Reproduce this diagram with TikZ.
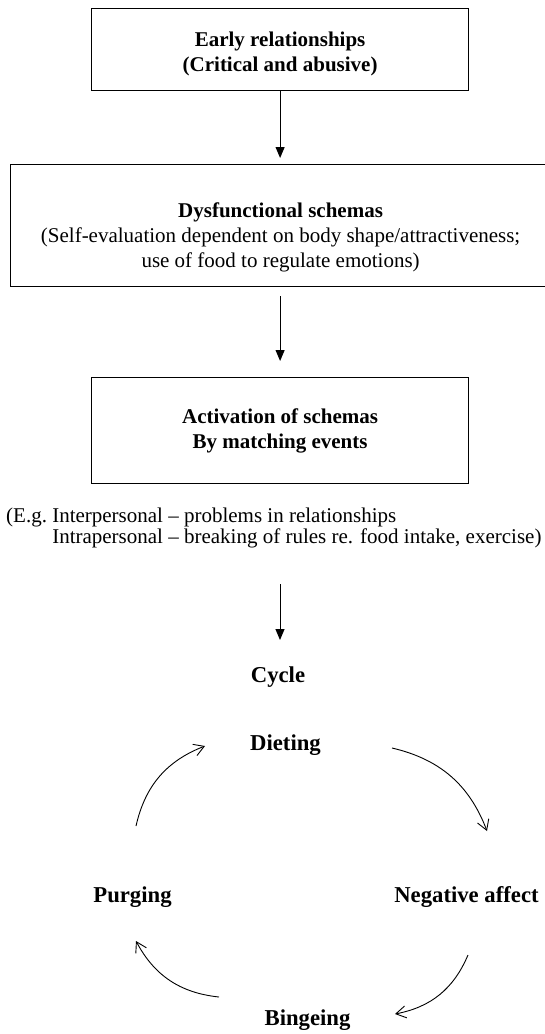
\documentclass[tikz,border=0pt]{standalone}
\usepackage{fontspec}
\setmainfont{Liberation Serif}
\usetikzlibrary{arrows.meta}
\begin{document}
\begin{tikzpicture}[x=1pt,y=-1pt,
  box/.style={draw, line width=1.2pt, align=center, inner sep=0pt, anchor=north west,
    font=\fontsize{21}{25}\selectfont\bfseries},
  flow/.style={line width=1pt, -{Triangle[length=11pt,width=9pt]}},
  cyc/.style={line width=0.9pt, -{Straight Barb[length=10pt,width=12pt,line width=0.9pt]}, bend left=28},
  lab/.style={font=\fontsize{22.7}{27}\selectfont\bfseries, inner sep=0pt, anchor=base}]
\useasboundingbox (0,0) rectangle (545,1034);
\node[box, minimum width=377pt, minimum height=82pt] (early) at (91,8)
  {\rule{0pt}{23pt}Early relationships\\(Critical and abusive)};
\node[box, minimum width=540pt, minimum height=122pt] (dys) at (10,164)
  {\rule{0pt}{39pt}Dysfunctional schemas\\{\mdseries (Self-evaluation dependent on body shape/attractiveness;}\\{\mdseries use of food to regulate emotions)}};
\node[box, minimum width=377pt, minimum height=106pt] (act) at (91,377)
  {Activation of schemas\\By matching events};
\node[anchor=base west, inner sep=0pt, font=\fontsize{21}{21.5}\selectfont] (eg) at (6,522)
  {(E.g.\ \begin{tabular}[t]{@{}l@{}}Interpersonal – problems in relationships\\Intrapersonal – breaking of rules re. food intake, exercise)\end{tabular}};
\node[lab] (cycle) at (278,682) {Cycle};
\node[lab] (diet) at (285.5,750) {Dieting};
\node[lab] (neg) at (466.5,902) {Negative affect};
\node[lab] (purg) at (132.5,902) {Purging};
\node[lab] (binge) at (307.5,1025) {Bingeing};
\coordinate (a3s) at (280,584);
\coordinate (as) at (392,748);
\coordinate (ae) at (487,831);
\coordinate (bs) at (468,955);
\coordinate (be) at (395,1014);
\coordinate (cs) at (219,997);
\coordinate (ce) at (136,941);
\coordinate (ds) at (136,826);
\coordinate (de) at (205,746);
\draw[flow, shorten >=6pt] (early.south) -- (dys.north -| early.south);
\draw[flow, shorten <=9pt, shorten >=16pt] (dys.south -| early.south) -- (act.north);
\draw[flow] (a3s) -- (a3s |- 0,640);
\draw[cyc] (as) to (ae);
\draw[cyc] (bs) to (be);
\draw[cyc] (cs) to (ce);
\draw[cyc] (ds) to (de);
\end{tikzpicture}
\end{document}
